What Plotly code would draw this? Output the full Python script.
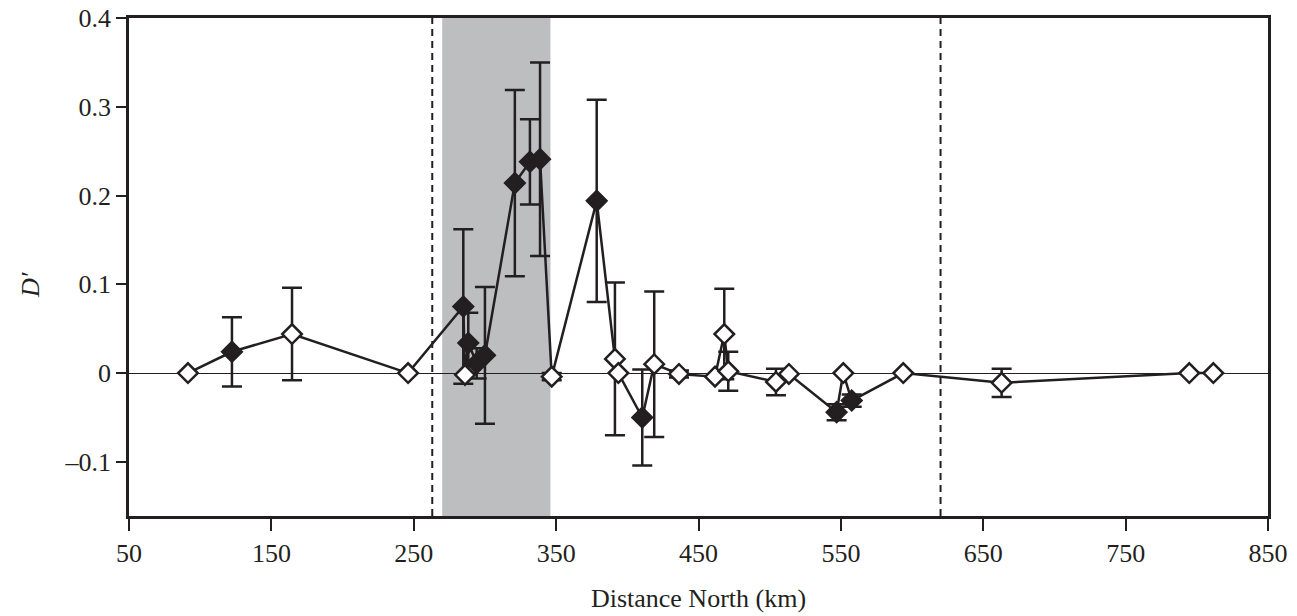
import plotly.graph_objects as go

# Distance north (km) of each sample site
distance_km = [91.4, 122.3, 164.5, 246.0, 284.8, 286.0, 288.3, 294.2, 300.0, 321.0,
               331.6, 338.7, 346.9, 378.5, 391.3, 393.7, 410.5, 418.9, 436.3, 461.6,
               468.1, 470.9, 504.4, 513.5, 547.0, 551.7, 557.6, 593.8, 662.9, 794.7, 811.6]
# D' values
d_prime = [0.000, 0.024, 0.044, 0.000, 0.075, -0.002, 0.034, 0.011, 0.020, 0.214,
           0.238, 0.241, -0.004, 0.194, 0.016, 0.000, -0.050, 0.010, -0.001, -0.004,
           0.044, 0.002, -0.010, -0.001, -0.044, 0.000, -0.031, 0.000, -0.011, 0.000, 0.000]
# Symmetric error (0 = no error bar drawn)
d_err = [0, 0.039, 0.052, 0, 0.087, 0, 0.034, 0.017, 0.077, 0.105,
         0.048, 0.109, 0.004, 0.114, 0.086, 0, 0.054, 0.082, 0.004, 0,
         0.051, 0.022, 0.015, 0, 0.009, 0, 0.007, 0, 0.016, 0, 0]
# 1 = significant (filled diamond), 0 = not significant (open diamond)
significant = [0, 1, 0, 0, 1, 0, 1, 1, 1, 1,
               1, 1, 0, 1, 0, 0, 1, 0, 0, 0,
               0, 0, 0, 0, 1, 0, 1, 0, 0, 0, 0]

# Shaded zone and dashed boundaries (km)
shade_zone = [270, 346]
dashed_lines = [263, 620]

x_ticks = [50, 150, 250, 350, 450, 550, 650, 750, 850]
y_ticks = [-0.1, 0, 0.1, 0.2, 0.3, 0.4]
y_ticklabels = ["\u20130.1", "0", "0.1", "0.2", "0.3", "0.4"]

INK = "#231f20"
FONT = "Liberation Serif"
FS = 26

fig = go.Figure()

fig.add_trace(go.Scatter(
    x=distance_km,
    y=d_prime,
    mode="lines+markers",
    line=dict(color=INK, width=2.5),
    marker=dict(
        symbol="diamond",
        size=15,
        color=[INK if s else "white" for s in significant],
        line=dict(color=INK, width=2.5),
    ),
    error_y=dict(
        type="data",
        array=[e if e else None for e in d_err],
        symmetric=True,
        color=INK,
        thickness=2.5,
        width=10,
    ),
    showlegend=False,
))

shapes = [
    dict(type="rect", xref="x", yref="paper", x0=shade_zone[0], x1=shade_zone[1],
         y0=0, y1=1, fillcolor="#bcbec0", line=dict(width=0), layer="below"),
]
for d in dashed_lines:
    shapes.append(dict(type="line", xref="x", yref="paper", x0=d, x1=d, y0=0, y1=1,
                       line=dict(color=INK, width=2, dash="7px,5px"), layer="below"))

fig.update_layout(
    width=1297,
    height=616,
    margin=dict(l=129, r=29, t=18, b=100),
    paper_bgcolor="white",
    plot_bgcolor="white",
    font=dict(family=FONT, size=FS, color=INK),
    shapes=shapes,
    annotations=[dict(
        text="<i>D\u2032</i>", xref="paper", yref="paper", x=0, y=0.5,
        xanchor="center", yanchor="middle", xshift=-99, yshift=-18,
        textangle=-90, showarrow=False, font=dict(family=FONT, size=FS, color=INK),
    )],
    xaxis=dict(
        range=[50, 850],
        tickvals=x_ticks,
        ticktext=[str(v) for v in x_ticks],
        ticks="outside",
        ticklen=12,
        tickwidth=2,
        tickcolor=INK,
        showline=True,
        linecolor=INK,
        linewidth=2.5,
        mirror=True,
        showgrid=False,
        zeroline=False,
        automargin=False,
        title=dict(text="Distance North (km)", font=dict(family=FONT, size=FS, color=INK), standoff=22),
    ),
    yaxis=dict(
        range=[-0.161, 0.4],
        tickvals=y_ticks,
        ticktext=y_ticklabels,
        ticks="outside",
        ticklen=10,
        tickwidth=2,
        tickcolor=INK,
        showline=True,
        linecolor=INK,
        linewidth=2.5,
        mirror=True,
        showgrid=False,
        zeroline=True,
        zerolinecolor=INK,
        zerolinewidth=1.3,
        automargin=False,
    ),
)

fig.write_html(
    "out.html",
    config={"displayModeBar": False},
    post_script=(
        "document.body.style.margin='0';"
        "document.body.style.overflow='hidden';"
        "document.documentElement.style.overflow='hidden';"
        "var gd=document.getElementById('{plot_id}');"
        "gd.style.position='fixed';gd.style.top='0px';gd.style.left='0px';"
    ),
)
